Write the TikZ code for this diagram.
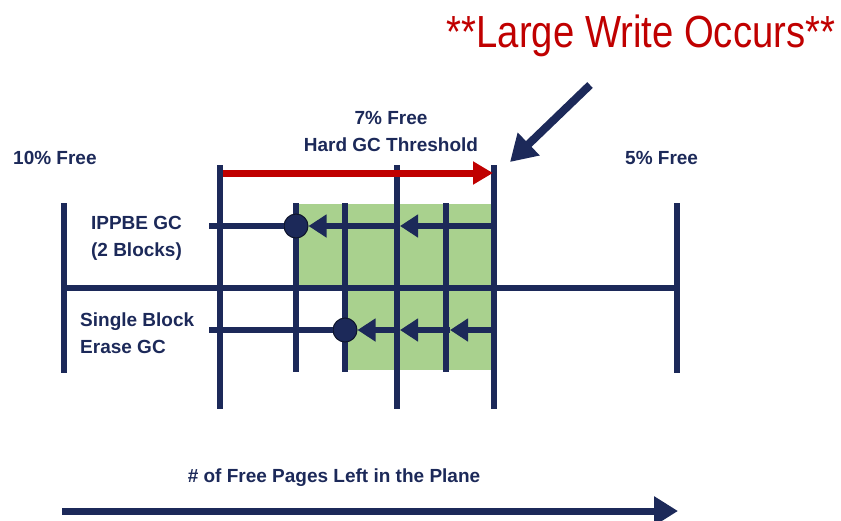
\documentclass[tikz,border=0pt]{standalone}
\usepackage{fontspec}
\setmainfont{Liberation Sans}
\usetikzlibrary{arrows.meta}
\definecolor{navy}{RGB}{28,41,89}
\definecolor{gcgreen}{RGB}{169,209,142}
\definecolor{warnred}{RGB}{192,0,0}
\tikzset{
  bar/.style={navy, line width=6.5pt},
  flow/.style={navy, line width=6.5pt, -{Triangle[length=18pt,width=22pt]}},
  lbl/.style={navy, font=\bfseries\fontsize{19}{27}\selectfont, inner sep=0pt},
  dot/.style={circle, fill=navy, draw=black!50!navy, line width=1pt, minimum size=24pt, inner sep=0pt},
}
\begin{document}
\begin{tikzpicture}[x=1pt, y=-1pt]
    \useasboundingbox (0,0) rectangle (841,520);
    % green band
    \fill [gcgreen] (296,204) rectangle (493,288);
    \fill [gcgreen] (345,288) rectangle (493,370);
    % plane axis
    \draw [bar] (64,203) -- (64,373);
    \draw [bar] (677,203) -- (677,373);
    \draw [bar] (64,288) -- (677,288);
    \foreach \x in {220,397,494}
        \draw [bar] (\x,165) -- (\x,409);
    \foreach \x in {296,345,446}
        \draw [bar] (\x,203) -- (\x,372);
    % IPPBE GC
    \coordinate (ippStart) at (209,226);
    \coordinate (ippEnd) at (493,226);
    \coordinate (ippMid) at (400,226);
    \node [dot] (ippDot) at (296,226) {};
    \draw [bar] (ippStart) -- (ippDot);
    \draw [flow] (ippEnd) -- (ippMid);
    \draw [flow] (ippMid) -- (ippDot);
    % single block erase GC
    \coordinate (sbStart) at (209,330);
    \coordinate (sbEnd) at (493,330);
    \coordinate (sbMidA) at (450,330);
    \coordinate (sbMidB) at (400,330);
    \node [dot] (sbDot) at (345,330) {};
    \draw [bar] (sbStart) -- (sbDot);
    \draw [flow] (sbEnd) -- (sbMidA);
    \draw [flow] (sbMidA) -- (sbMidB);
    \draw [flow] (sbMidB) -- (sbDot);
    % hard GC threshold
    \coordinate (thrStart) at (223,173);
    \coordinate (thrEnd) at (493,173);
    \draw [warnred, line width=7pt, -{Triangle[length=20pt,width=22pt]}] (thrStart) -- (thrEnd);
    % large write
    \node [warnred, anchor=base, inner sep=0pt, font=\fontsize{45}{54}\selectfont] (write) at (641,47)
        {\scalebox{0.85}[1]{**Large Write Occurs**}};
    \coordinate (writeTail) at (590,85);
    \coordinate (writeHead) at (510,162);
    \draw [navy, line width=8pt, -{Triangle[length=26pt,width=30pt]}] (writeTail) -- (writeHead);
    % labels
    \node [lbl, anchor=base west] (tenFree) at (13,164) {10\% Free};
    \node [lbl, anchor=base west] (fiveFree) at (625,164) {5\% Free};
    \node [lbl, anchor=north, align=center] (hardGC) at (391,111.2) {7\% Free\\Hard GC Threshold};
    \node [lbl, anchor=north, align=center] (ippLbl) at (136.5,216.4) {IPPBE GC\\(2 Blocks)};
    \node [lbl, anchor=north west, align=left] (sbLbl) at (80,313) {Single Block\\Erase GC};
    \node [lbl, anchor=base] (pagesLbl) at (334,482) {\# of Free Pages Left in the Plane};
    % free pages arrow
    \coordinate (pagesStart) at (62,511);
    \coordinate (pagesEnd) at (678,511);
    \draw [navy, line width=7pt, -{Triangle[length=24pt,width=28pt]}] (pagesStart) -- (pagesEnd);
\end{tikzpicture}
\end{document}
